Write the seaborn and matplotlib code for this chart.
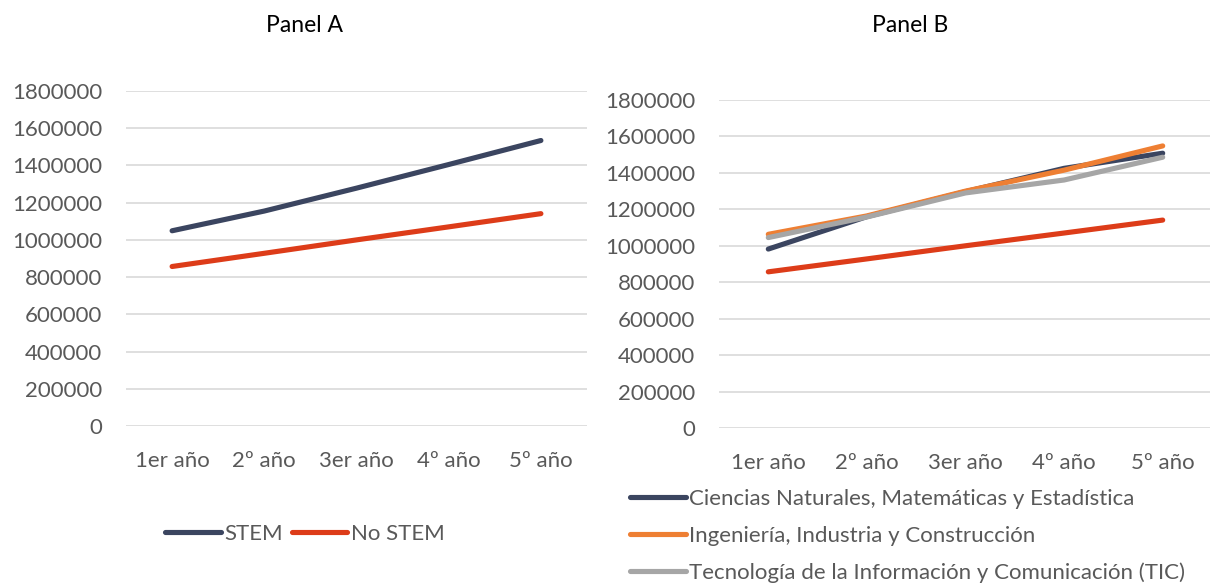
import matplotlib
matplotlib.use("Agg")
import matplotlib.pyplot as plt
import seaborn as sns
import pandas as pd
from matplotlib.lines import Line2D

# Remuneración promedio por año de egreso
years = ["1er año", "2º año", "3er año", "4º año", "5º año"]
stem = [1049000, 1155000, 1278000, 1405000, 1534000]
no_stem = [857000, 928000, 1000000, 1070000, 1141000]

ciencias = [982000, 1160000, 1297000, 1425000, 1508000]
ingenieria = [1063000, 1164000, 1300000, 1415000, 1548000]
tic = [1045000, 1158000, 1290000, 1361000, 1486000]

series_a = {"STEM": stem, "No STEM": no_stem}
series_b = {
    "Ciencias Naturales, Matemáticas y Estadística": ciencias,
    "Ingeniería, Industria y Construcción": ingenieria,
    "Tecnología de la Información y Comunicación (TIC)": tic,
    "No STEM": no_stem,
}

colors = {
    "STEM": "#3B4560",
    "No STEM": "#DD3C19",
    "Ciencias Naturales, Matemáticas y Estadística": "#3B4560",
    "Ingeniería, Industria y Construcción": "#EE7F33",
    "Tecnología de la Información y Comunicación (TIC)": "#A6A6A6",
}


def long_form(series):
    rows = []
    for name, vals in series.items():
        for i, v in enumerate(vals):
            rows.append({"año": i, "serie": name, "valor": v})
    return pd.DataFrame(rows)


sns.set_theme(style="white")
plt.rcParams["font.family"] = ["Lato", "DejaVu Sans"]

W, H = 1210, 587
fig = plt.figure(figsize=(W / 100, H / 100), dpi=100)


def px_axes(x0, x1, ytop, ybot):
    return fig.add_axes([x0 / W, 1 - ybot / H, (x1 - x0) / W, (ybot - ytop) / H])


ax_a = px_axes(126, 587, 91, 426)
ax_b = px_axes(719, 1212, 100, 428)

tick_color = "#595959"
grid_color = "#D9D9D9"

for ax, series, order in (
    (ax_a, series_a, list(series_a)),
    (ax_b, series_b, list(series_b)),
):
    df = long_form(series)
    sns.lineplot(
        data=df, x="año", y="valor", hue="serie", hue_order=order,
        palette=colors, linewidth=3.7, ax=ax, legend=False,
        solid_capstyle="round", zorder=3,
    )
    ax.set_xlim(-0.5, 4.5)
    ax.set_ylim(0, 1800000)
    ax.set_yticks(range(0, 1800001, 200000))
    ax.set_yticklabels([str(v) for v in range(0, 1800001, 200000)])
    ax.set_xticks(range(5))
    ax.set_xticklabels(years)
    ax.grid(axis="y", color=grid_color, linewidth=1.2, zorder=0)
    ax.grid(axis="x", visible=False)
    for s in ax.spines.values():
        s.set_visible(False)
    ax.tick_params(axis="y", length=0, pad=17, labelsize=16, labelcolor=tick_color)
    ax.tick_params(axis="x", length=0, pad=18, labelsize=16, labelcolor=tick_color)
    ax.set_xlabel("")
    ax.set_ylabel("")

for x, label in ((305, "Panel A"), (910, "Panel B")):
    fig.text(x / W, 1 - 25 / H, label, ha="center", va="center",
             fontsize=16.5, color="black")


def handle(c):
    return Line2D([], [], color=c, linewidth=3.7, solid_capstyle="round")


fig.legend(
    [handle(colors[k]) for k in series_a], list(series_a),
    loc="center", bbox_to_anchor=(305 / W, 1 - 534 / H), ncol=2,
    frameon=False, fontsize=16, handlelength=2.5, handletextpad=0.15,
    columnspacing=0.4, labelcolor=tick_color,
)

names_b = list(series_b)[:3]
fig.legend(
    [handle(colors[k]) for k in names_b], names_b,
    loc="upper left", bbox_to_anchor=(630 / W, 1 - 489 / H), ncol=1,
    frameon=False, fontsize=16, handlelength=2.5, handletextpad=0.15,
    labelspacing=0.75, labelcolor=tick_color, borderaxespad=0, borderpad=0,
)

fig.savefig("out.png", dpi=100, facecolor="white")
